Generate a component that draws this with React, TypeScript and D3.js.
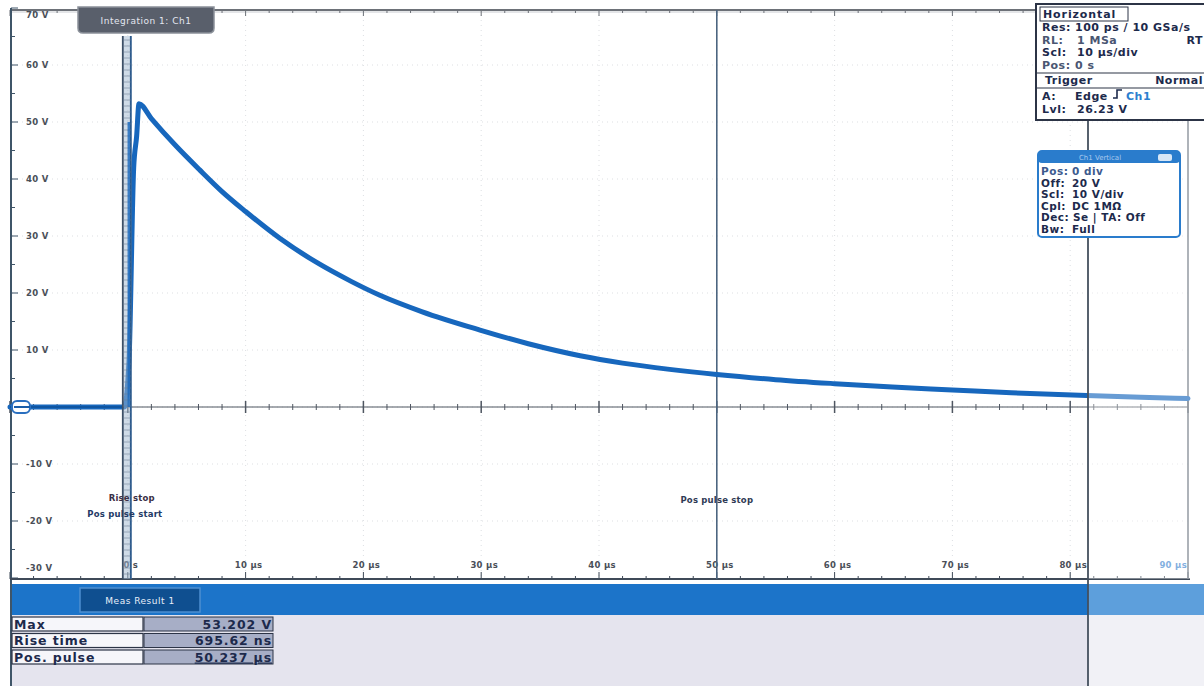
import React from 'react';
import * as d3 from 'd3';

// Ch1 waveform samples: time in µs, amplitude in V
const timeUs = [-10, -6, -3, -0.3, 0.1, 0.5, 0.75, 0.95, 2, 4, 6.1, 8, 10, 12.9, 16, 19, 21.4, 25, 29.9, 34, 38.4, 42, 46, 50, 55, 60, 64.9, 70, 75, 81.4, 86, 90];
const voltsV = [0, 0, 0, 0, 8, 42, 47.5, 53.202, 50.6, 46, 41.6, 37.8, 34.3, 29.6, 25.4, 22.0, 19.6, 16.7, 13.5, 11.1, 9.0, 7.7, 6.6, 5.7, 4.8, 4.1, 3.5, 3.0, 2.5, 2.0, 1.7, 1.5];

const voltTicks = [70, 60, 50, 40, 30, 20, 10, -10, -20, -30];
const voltTickLabels = ['70 V', '60 V', '50 V', '40 V', '30 V', '20 V', '10 V', '-10 V', '-20 V', '-30 V'];
const timeTicks = [0, 10, 20, 30, 40, 50, 60, 70, 80, 90];
const timeTickLabels = ['0 s', '10 µs', '20 µs', '30 µs', '40 µs', '50 µs', '60 µs', '70 µs', '80 µs', '90 µs'];

const measNames = ['Max', 'Rise time', 'Pos. pulse'];
const measValues = ['53.202 V', '695.62 ns', '50.237 µs'];

const horizontalKeys = ['Res:', 'RL:', 'Scl:', 'Pos:'];
const horizontalValues = ['100 ps / 10 GSa/s', '1 MSa', '10 µs/div', '0 s'];
const channelKeys = ['Pos:', 'Off:', 'Scl:', 'Cpl:', 'Dec:', 'Bw:'];
const channelValues = ['0 div', '20 V', '10 V/div', 'DC 1MΩ', 'Se | TA: Off', 'Full'];

const W = 1204;
const H = 686;
const FONT = '"DejaVu Sans", Verdana, sans-serif';
const NAVY = '#1d2a4c';
const TRACE = '#1767bd';
const PRE = { whiteSpace: 'pre' as const };

export default function App() {
  const x = d3.scaleLinear().domain([-10, 90]).range([10, 1188]);
  const y = d3.scaleLinear().domain([-30, 70]).range([578, 8]);

  const pts: [number, number][] = timeUs.map((t, i) => [t, voltsV[i]]);
  const line = d3
    .line<[number, number]>()
    .x((d) => x(d[0]))
    .y((d) => y(d[1]))
    .curve(d3.curveMonotoneX);

  const minorT = d3.range(-10, 90.01, 2);
  const minorV = d3.range(-30, 70.01, 5);
  const gridV = d3.range(-20, 70, 10);
  const gridT = d3.range(0, 90, 10);

  const x0 = x(0);
  const y0 = y(0);
  const splitX = 1088;

  return (
    <svg width={W} height={H} style={{ position: 'absolute', left: 0, top: 0, background: '#fff' }} fontFamily={FONT}>
      <rect x={0} y={0} width={W} height={H} fill="#fff" />

      {/* faint dotted grid */}
      <g stroke="#cfd3d8" strokeWidth={1} strokeDasharray="1 4" opacity={0.7}>
        {gridV.map((v) => (
          <line key={'gv' + v} x1={12} x2={1188} y1={y(v)} y2={y(v)} />
        ))}
        {gridT.map((t) => (
          <line key={'gt' + t} x1={x(t)} x2={x(t)} y1={10} y2={578} />
        ))}
      </g>

      {/* 0 V axis with ticks */}
      <line x1={12} x2={1188} y1={y0} y2={y0} stroke="#4f5661" strokeWidth={1} />
      {minorT.map((t) => {
        const major = Math.abs(t % 10) < 1e-6;
        return (
          <line key={'ax' + t} x1={x(t)} x2={x(t)} y1={y0 - (major ? 6 : 3)} y2={y0 + (major ? 6 : 3)} stroke="#4f5661" strokeWidth={major ? 1.5 : 1} />
        );
      })}

      {/* frame: top, left, bottom, right */}
      <line x1={10} x2={1036} y1={10} y2={10} stroke="#6d7178" strokeWidth={2} />
      <line x1={10} x2={1036} y1={12} y2={12} stroke="#c9ccd1" strokeWidth={1} />
      {minorT.map((t) => {
        const major = Math.abs(t % 10) < 1e-6;
        return x(t) < 1030 ? (
          <line key={'tt' + t} x1={x(t)} x2={x(t)} y1={10} y2={10 + (major ? 6 : 3)} stroke="#6d7178" strokeWidth={1} />
        ) : null;
      })}
      <line x1={11} x2={11} y1={8} y2={686} stroke="#3f5568" strokeWidth={2} />
      {minorV.map((v) => {
        const major = Math.abs(v % 10) < 1e-6;
        return <line key={'lt' + v} x1={11} x2={11 + (major ? 7 : 4)} y1={y(v)} y2={y(v)} stroke="#3f5568" strokeWidth={1} />;
      })}
      <line x1={10} x2={1190} y1={579} y2={579} stroke="#3f4a58" strokeWidth={2} />
      {minorT.map((t) => {
        const major = Math.abs(t % 10) < 1e-6;
        return <line key={'bt' + t} x1={x(t)} x2={x(t)} y1={579} y2={579 - (major ? 7 : 3)} stroke="#3f4a58" strokeWidth={1} />;
      })}
      <line x1={1188} x2={1188} y1={118} y2={579} stroke="#5a6470" strokeWidth={1.5} />

      {/* voltage labels */}
      {voltTicks.map((v, i) => {
        let yy = y(v) + 3;
        if (v === 70) yy = y(v) + 10;
        if (v === -30) yy = y(v) - 7;
        return (
          <text key={'vl' + v} x={26} y={yy} fontSize={8.5} fontWeight="bold" fill="#4a4f58" letterSpacing={0.3}>
            {voltTickLabels[i]}
          </text>
        );
      })}

      {/* time labels */}
      {timeTicks.map((t, i) => (
        <text
          key={'tl' + t}
          x={t === 90 ? x(t) - 1 : x(t) + 3}
          y={568}
          fontSize={8.5}
          fontWeight="bold"
          letterSpacing={0.3}
          textAnchor={t === 90 ? 'end' : 'middle'}
          fill={t === 90 ? '#3f86cf' : '#4a4f58'}
        >
          {timeTickLabels[i]}
        </text>
      ))}

      {/* cursor at 50 µs: pulse stop */}
      <line x1={x(50)} x2={x(50)} y1={10} y2={579} stroke="#4c6580" strokeWidth={1.6} />
      <text x={x(50)} y={503} fontSize={8.5} fontWeight="bold" fill="#2f3a55" textAnchor="middle" letterSpacing={0.2}>
        Pos pulse stop
      </text>

      {/* waveform */}
      <path d={line(pts) || ''} fill="none" stroke={TRACE} strokeWidth={5} strokeLinejoin="round" strokeLinecap="round" />
      <path d={line(pts.filter((p) => p[0] <= 0)) || ''} fill="none" stroke="#0e4f98" strokeWidth={1.5} />

      {/* cursor band at 0 s: rise stop / pulse start */}
      <g>
        <rect x={x0 - 5} y={36} width={9} height={543} fill="#9fb7cf" opacity={0.5} />
        <line x1={x0 - 5} x2={x0 - 5} y1={36} y2={579} stroke="#3c4f66" strokeWidth={1.8} />
        <line x1={x0 + 3} x2={x0 + 3} y1={36} y2={579} stroke="#2c5a8c" strokeWidth={1.8} />
        {d3.range(40, 578, 6).map((yy) => (
          <line key={'cb' + yy} x1={x0 - 5} x2={x0 + 3} y1={yy} y2={yy} stroke="#6d7f96" strokeWidth={0.8} opacity={0.7} />
        ))}
        <line x1={x0 + 1} x2={x0 + 1} y1={y(50)} y2={y0} stroke={TRACE} strokeWidth={2.5} opacity={0.8} />
      </g>
      <text x={x0 + 4} y={501} fontSize={8.5} fontWeight="bold" fill="#3a2f45" textAnchor="middle" letterSpacing={0.2}>
        Rise stop
      </text>
      <text x={x0 - 3} y={517} fontSize={8.5} fontWeight="bold" fill="#233a66" textAnchor="middle" letterSpacing={0.2}>
        Pos pulse start
      </text>

      {/* channel offset marker */}
      <rect x={12} y={401} width={18} height={12} rx={5} fill="#fff" stroke="#2a6fbf" strokeWidth={2} />
      <line x1={14} x2={30} y1={y0} y2={y0} stroke="#1a5da8" strokeWidth={2} />

      {/* diagram tab */}
      <path d="M78,7 L214,7 L214,28 Q214,33 209,33 L83,33 Q78,33 78,28 Z" fill="#595f6b" stroke="#8a9099" strokeWidth={1.5} />
      <text x={146} y={24} fontSize={9} fill="#e3e6ef" textAnchor="middle" letterSpacing={0.5}>
        Integration 1: Ch1
      </text>

      {/* dimmed region at right edge */}
      <rect x={splitX} y={0} width={W - splitX} height={579} fill="#fff" opacity={0.35} />
      <line x1={splitX} x2={splitX} y1={118} y2={H} stroke="#44505e" strokeWidth={1.8} />

      {/* horizontal / trigger info box */}
      <g fontSize={11} fontWeight="bold" letterSpacing={0.5}>
        <rect x={1036} y={4} width={172} height={116} fill="#fff" stroke="#2c3446" strokeWidth={2} />
        <rect x={1040} y={7} width={88} height={14} fill="#fff" stroke="#2c3446" strokeWidth={1} />
        <text x={1043} y={18} fill={NAVY} letterSpacing={0.9}>
          Horizontal
        </text>
        {horizontalKeys.map((k, i) => (
          <g key={'hr' + i} fill={i === 1 || i === 3 ? '#4a5672' : NAVY}>
            <text x={1042} y={31 + i * 12.5}>{k}</text>
            <text x={i === 0 || i === 3 ? 1075 : 1077} y={31 + i * 12.5}>
              {horizontalValues[i]}
            </text>
          </g>
        ))}
        <text x={1203} y={43.5} fill={NAVY} textAnchor="end">
          RT
        </text>
        <line x1={1037} x2={1204} y1={73} y2={73} stroke="#2c3446" strokeWidth={1.2} />
        <text x={1045} y={84} fill={NAVY}>
          Trigger
        </text>
        <text x={1203} y={84} fill={NAVY} textAnchor="end">
          Normal
        </text>
        <line x1={1037} x2={1204} y1={88} y2={88} stroke="#2c3446" strokeWidth={1.2} />
        <text x={1042} y={100} fill={NAVY}>
          A:
        </text>
        <text x={1075} y={100} fill={NAVY}>
          Edge
        </text>
        <path d="M1113,98 L1117,98 L1117,90 L1122,90" fill="none" stroke={NAVY} strokeWidth={1.6} />
        <text x={1126} y={100} fill="#2d7fcf">
          Ch1
        </text>
        <text x={1042} y={113} fill={NAVY}>
          Lvl:
        </text>
        <text x={1077} y={113} fill={NAVY}>
          26.23 V
        </text>
      </g>

      {/* channel info box */}
      <g>
        <rect x={1038} y={151} width={142} height={86} rx={4} fill="#fff" stroke="#2a7ccc" strokeWidth={2} />
        <rect x={1038} y={151} width={142} height={12} rx={4} fill="#2a7ccc" />
        <text x={1100} y={160} fontSize={7} fill="#a9c9ee" textAnchor="middle">
          Ch1 Vertical
        </text>
        <rect x={1158} y={154} width={14} height={7} rx={2} fill="#d6e6f6" />
        {channelKeys.map((k, i) => (
          <g key={'cr' + i} fontSize={10.5} fontWeight="bold" letterSpacing={0.5} fill={i === 0 ? '#3d5a8e' : NAVY}>
            <text x={1041} y={175 + i * 11.5}>{k}</text>
            <text x={i === 4 ? 1073 : 1072} y={175 + i * 11.5} style={PRE}>
              {channelValues[i]}
            </text>
          </g>
        ))}
      </g>

      {/* measurement results panel */}
      <rect x={10} y={584} width={splitX - 10} height={31} fill="#1c74c9" />
      <rect x={splitX} y={584} width={W - splitX} height={31} fill="#5d9fdc" />
      <rect x={10} y={615} width={splitX - 10} height={71} fill="#e5e4ee" />
      <rect x={splitX} y={615} width={W - splitX} height={71} fill="#f1f1f6" />
      <path d="M80,588 L200,588 L200,612 L80,612 Z" fill="#0f4f90" stroke="#4d8fd0" strokeWidth={1.5} />
      <text x={140} y={604} fontSize={9} fill="#e8eef8" textAnchor="middle" letterSpacing={0.5}>
        Meas Result 1
      </text>
      <line x1={11} x2={11} y1={584} y2={686} stroke="#3f5568" strokeWidth={2} />
      <line x1={splitX} x2={splitX} y1={584} y2={H} stroke="#44505e" strokeWidth={1.8} />
      {measNames.map((n, i) => {
        const ry = 617 + i * 16.5;
        return (
          <g key={'m' + i} fontSize={12.5} fontWeight="bold" letterSpacing={0.9}>
            <rect x={12} y={ry} width={131} height={14} fill="#f6f6fa" stroke="#2c3446" strokeWidth={1.2} />
            <text x={14} y={ry + 11.5} fill={NAVY}>
              {n}
            </text>
            <rect x={144} y={ry} width={129} height={14} fill="#a7aec6" stroke="#2c3446" strokeWidth={1} />
            <text x={272} y={ry + 11.5} fill={NAVY} textAnchor="end" textDecoration={i === 2 ? 'underline' : undefined}>
              {measValues[i]}
            </text>
          </g>
        );
      })}
    </svg>
  );
}
